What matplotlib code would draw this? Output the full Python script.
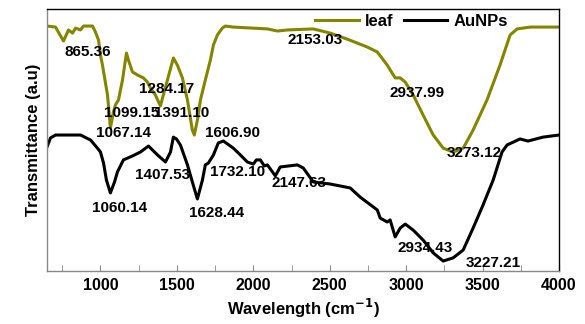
import matplotlib
matplotlib.use("Agg")
import matplotlib.pyplot as plt
from matplotlib.ticker import MultipleLocator

plt.rcParams['font.family'] = ['Liberation Sans', 'DejaVu Sans']
plt.rcParams['font.weight'] = 'bold'

# leaf spectrum (wavenumber, transmittance a.u.)
leaf_x = [650, 706, 758, 791, 817, 837, 869, 889, 948, 967, 987, 1000, 1013, 1046, 1065,
          1085, 1098, 1118, 1144, 1170, 1183, 1209, 1242, 1281, 1307, 1327, 1359, 1392,
          1438, 1477, 1503, 1536, 1569, 1601, 1614, 1634, 1654, 1686, 1719, 1739, 1765,
          1797, 1817, 1869, 2092, 2157, 2222, 2392, 2503, 2614, 2745, 2811, 2876, 2928,
          2961, 2994, 3046, 3111, 3177, 3242, 3307, 3373, 3438, 3529, 3614, 3680, 3726,
          3811, 4000]
leaf_y = [93.5, 93.1, 87.8, 92.0, 90.8, 92.7, 92.0, 93.5, 93.5, 91.2, 88.2, 82.4, 78.6,
          67.2, 54.6, 60.7, 63.4, 65.3, 72.9, 83.2, 80.5, 76.0, 74.8, 73.7, 72.1, 69.8,
          67.2, 63.0, 72.9, 81.3, 78.6, 73.7, 65.3, 53.8, 51.9, 57.6, 65.3, 72.9, 80.5,
          86.3, 90.1, 92.7, 93.5, 93.1, 92.4, 91.6, 92.0, 92.4, 90.8, 88.5, 85.5, 83.6,
          78.6, 73.7, 73.7, 72.1, 67.2, 59.5, 51.9, 46.9, 45.4, 46.9, 53.8, 65.3, 78.6,
          90.1, 92.4, 93.1, 93.1]

# AuNPs spectrum
au_x = [650, 673, 706, 869, 935, 980, 1000, 1020, 1039, 1065, 1092, 1111, 1150, 1209,
        1261, 1314, 1373, 1425, 1458, 1477, 1497, 1523, 1569, 1601, 1634, 1667, 1686,
        1706, 1739, 1771, 1804, 1869, 1915, 1961, 2000, 2020, 2046, 2072, 2092, 2144,
        2176, 2288, 2327, 2392, 2503, 2634, 2699, 2811, 2830, 2876, 2895, 2928, 2961,
        2994, 3046, 3111, 3177, 3242, 3307, 3373, 3438, 3503, 3569, 3627, 3660, 3745,
        3797, 3895, 4000]
au_y = [47.3, 50.8, 51.9, 51.9, 50.0, 46.9, 45.4, 41.2, 34.7, 29.8, 34.0, 37.8, 42.4,
        43.9, 45.4, 47.7, 44.3, 41.6, 45.4, 51.1, 50.4, 48.1, 40.5, 34.0, 27.5, 34.7,
        40.5, 41.2, 44.3, 48.9, 49.6, 46.9, 44.3, 41.6, 40.8, 42.4, 42.4, 40.1, 40.5,
        36.3, 39.7, 40.5, 39.3, 34.0, 33.2, 31.7, 28.2, 23.3, 20.2, 18.7, 19.5, 13.0,
        16.4, 17.9, 15.6, 11.8, 6.9, 3.8, 5.0, 8.0, 16.4, 25.2, 34.7, 45.4, 48.1, 50.4,
        49.6, 51.1, 51.9]

# peak labels: text, x, y
peak_labels = ["865.36", "1099.15", "1391.10", "1284.17", "1067.14", "1606.90",
               "2153.03", "2937.99", "3273.12", "1060.14", "1407.53", "1628.44",
               "1732.10", "2147.63", "2934.43", "3227.21"]
peak_lx = [915, 1203, 1530, 1431, 1150, 1863, 2405, 3072, 3445, 1124, 1405, 1758,
           1895, 2300, 3124, 3569]
peak_ly = [83.6, 60.3, 60.3, 69.5, 52.7, 52.7, 88.2, 67.9, 45.0, 24.0, 36.6, 22.1,
           37.8, 33.6, 8.8, 3.1]

fig = plt.figure(figsize=(5.85, 3.24), dpi=100)
ax = fig.add_axes([0.0803, 0.1636, 0.8753, 0.8086])

ax.plot(leaf_x, leaf_y, color='#858500', lw=2.2, label='leaf', solid_joinstyle='round')
ax.plot(au_x, au_y, color='black', lw=2.2, label='AuNPs', solid_joinstyle='round')

for t, x, y in zip(peak_labels, peak_lx, peak_ly):
    ax.text(x, y, t, ha='center', va='center', fontsize=11, fontweight='bold')

ax.set_xlim(650, 4000)
ax.set_ylim(0, 100)
ax.xaxis.set_major_locator(MultipleLocator(500))
ax.xaxis.set_minor_locator(MultipleLocator(250))
ax.tick_params(axis='x', which='both', direction='in', length=4, labelsize=11.5, pad=5,
               color='#888888')
ax.tick_params(axis='y', left=False, labelleft=False)
ax.set_xticks([1000, 1500, 2000, 2500, 3000, 3500, 4000])
for lab in ax.get_xticklabels():
    lab.set_fontweight('bold')

ax.set_xlabel('Wavelength (cm$^{\\mathbf{-1}}$)', fontsize=12, fontweight='bold', labelpad=3)
ax.set_ylabel('Transmittance (a.u)', fontsize=12, fontweight='bold', labelpad=4)

for name, s in ax.spines.items():
    s.set_linewidth(1.0)
    if name in ('left', 'bottom'):
        s.set_color('#888888')

leg = ax.legend(loc='upper right', bbox_to_anchor=(0.93, 1.04), ncol=2, frameon=False,
                fontsize=12, handlelength=2.6, columnspacing=0.6, handletextpad=0.4)
for t in leg.get_texts():
    t.set_fontweight('bold')

fig.savefig('out.png', dpi=100)
